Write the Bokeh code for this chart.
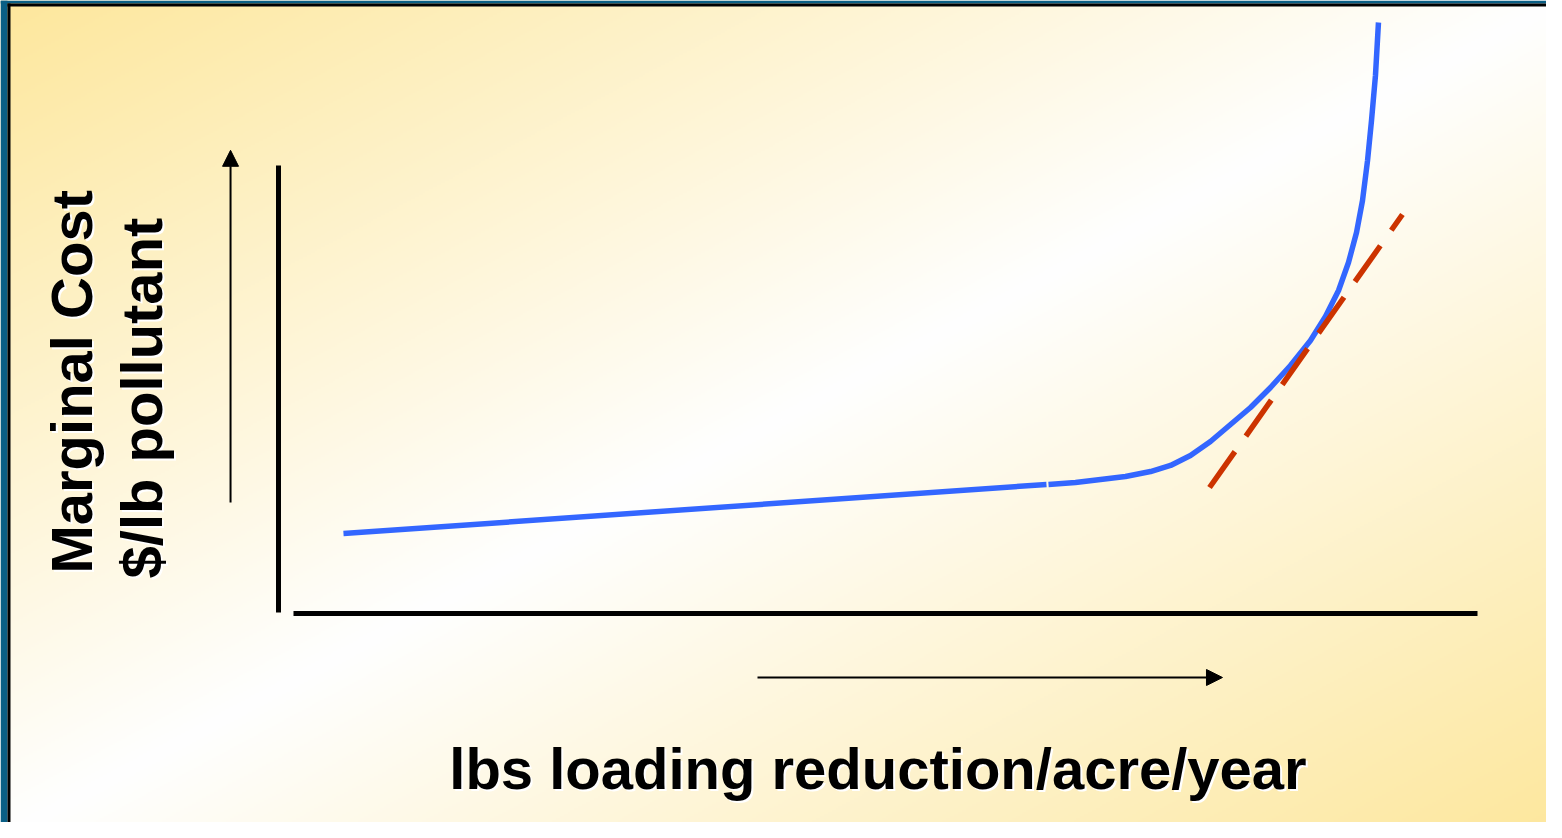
import numpy as np
from bokeh.plotting import figure
from bokeh.models import Range1d, Arrow, NormalHead
from bokeh.core.properties import value
from bokeh.embed import file_html
from bokeh.resources import INLINE

# ---- data (conceptual units: x = lbs reduction, y = marginal cost) ----
flat_x = [5.42, 64.05]
flat_y = [17.67, 28.64]

curve_x = [64.22, 66.47, 68.56, 70.64, 72.73, 74.40, 76.06, 77.73, 79.40, 81.07,
           82.74, 84.40, 86.07, 87.32, 88.41, 89.24, 89.91, 90.41, 90.83, 91.16,
           91.49, 91.74]
curve_y = [28.64, 29.08, 29.75, 30.43, 31.54, 32.89, 35.12, 38.26, 42.06, 45.86,
           50.34, 55.26, 60.85, 66.22, 72.04, 78.30, 85.01, 92.17, 101.12, 110.07,
           120.13, 131.99]

tangent_x = [77.65, 93.74]
tangent_y = [27.96, 89.04]

# axes frame lines
yaxis_x = [0.0, 0.0]
yaxis_y = [0.0, 100.0]
xaxis_x = [1.25, 100.0]
xaxis_y = [-0.22, -0.22]

# direction arrows
up_arrow = dict(x0=-4.0, y0=24.6, x1=-4.0, y1=103.4)
right_arrow = dict(x0=39.95, y0=-14.54, x1=78.73, y1=-14.54)

# labels
ylab_text = ["Marginal Cost", "$/lb pollutant"]
ylab_x = [-17.26, -11.42]
ylab_y = [8.72, 7.61]
xlab_text = ["lbs loading reduction/acre/year"]
xlab_x = [50.0]
xlab_y = [-34.9]

# ---- figure ----
W, H = 1546, 822
PXX, PXY = 11.99, 4.47          # pixels per data unit
X0PX, Y0PX = 278, 612           # data origin in figure pixels
xs = -X0PX / PXX
xe = (W - X0PX) / PXX
ye = Y0PX / PXY
ys = -(H - Y0PX) / PXY


def dx(px):
    return (px - X0PX) / PXX


def dy(py):
    return (Y0PX - py) / PXY


p = figure(width=W, height=H, x_range=Range1d(xs, xe), y_range=Range1d(ys, ye),
           output_backend="svg", toolbar_location=None, min_border=0,
           x_axis_location=None, y_axis_location=None)
p.grid.visible = False
p.outline_line_color = None
p.background_fill_color = "white"
p.border_fill_color = "white"

# background gradient (yellow -> white -> yellow along the diagonal)
GW, GH = W // 2, H // 2
u = ((np.arange(GW) + 0.5) * (W / GW)) / 1562.0
v = ((np.arange(GH) + 0.5) * (H / GH)) / 838.0
t = (u[None, :] + v[:, None]) / 2.0
f = np.abs(2 * t - 1)
yel = np.array([253, 231, 156], dtype=float)
rgb = 255 * (1 - f[..., None]) + yel[None, None, :] * f[..., None]
rgb = rgb[::-1]  # row 0 at bottom
img = np.empty((GH, GW), dtype=np.uint32)
view = img.view(dtype=np.uint8).reshape((GH, GW, 4))
view[:, :, 0] = rgb[:, :, 0].astype(np.uint8)
view[:, :, 1] = rgb[:, :, 1].astype(np.uint8)
view[:, :, 2] = rgb[:, :, 2].astype(np.uint8)
view[:, :, 3] = 255
p.image_rgba(image=[img], x=xs, y=ys, dw=xe - xs, dh=ye - ys)

# slide frame border (teal outer band + thin black line)
TEAL = "#0a5f85"
p.quad(left=[dx(0), dx(0)], right=[dx(7), dx(W)], top=[dy(0), dy(0)], bottom=[dy(H), dy(3)],
       fill_color=TEAL, line_color=None)
p.quad(left=[dx(7), dx(7)], right=[dx(10), dx(W)], top=[dy(3), dy(3)], bottom=[dy(H), dy(6)],
       fill_color="black", line_color=None)

# axis lines
p.line(yaxis_x, yaxis_y, line_color="black", line_width=5)
p.line(xaxis_x, xaxis_y, line_color="black", line_width=5)

# arrows
for a in (up_arrow, right_arrow):
    p.add_layout(Arrow(end=NormalHead(size=16, fill_color="black", line_color="black", line_width=1),
                       x_start=a["x0"], y_start=a["y0"], x_end=a["x1"], y_end=a["y1"],
                       line_color="black", line_width=2))

# curve
p.line(flat_x, flat_y, line_color="#3366ff", line_width=5.5)
p.line(curve_x, curve_y, line_color="#3366ff", line_width=5.5, line_join="round")
p.line(tangent_x, tangent_y, line_color="#cc3300", line_width=5.5, line_dash="44 19")

# labels with white shadow
font = value("Liberation Sans")
for col, off in (("white", 2), ("black", 0)):
    p.text(x=ylab_x, y=ylab_y, text=ylab_text, angle=np.pi / 2, text_align="left",
           text_baseline="alphabetic", text_font=font, text_font_style="bold",
           text_font_size="58px", text_color=col, x_offset=off, y_offset=off)
    p.text(x=xlab_x, y=xlab_y, text=xlab_text, text_align="center",
           text_baseline="alphabetic", text_font=font, text_font_style="bold",
           text_font_size="58px", text_color=col, x_offset=off, y_offset=off)

open("out.html", "w").write(file_html(p, INLINE))
